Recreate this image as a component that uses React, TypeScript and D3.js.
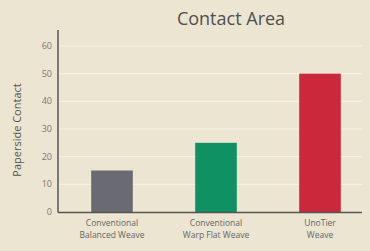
import React from "react";
import * as d3 from "d3";

const categories = ["Conventional|Balanced Weave", "Conventional|Warp Flat Weave", "UnoTier|Weave"];
const values = [15, 25, 50];
const colors = ["#6a6a72", "#0f9163", "#cc283c"];
const yTicks = [0, 10, 20, 30, 40, 50, 60];

export default function App() {
  const W = 370, H = 251;
  const x = d3.scaleBand<string>().domain(categories).range([60, 372]).paddingInner(0.6).paddingOuter(0.3);
  const y = d3.scaleLinear().domain([0, 60]).range([212, 46]);
  const font = "'Open Sans', 'DejaVu Sans', sans-serif";
  return (
    <svg width={W} height={H} style={{ position: "absolute", left: 0, top: 0 }} fontFamily={font}>
      <rect width={W} height={H} fill="#ebe5d2" />
      <text x={231} y={25} textAnchor="middle" fontSize={18} fill="#505050">Contact Area</text>
      {yTicks.map((t) => (
        <g key={t}>
          {t > 0 && <line x1={58} x2={362} y1={y(t)} y2={y(t)} stroke="#f5f1e6" strokeWidth={1.2} />}
          <text x={52} y={y(t) + 3} textAnchor="end" fontSize={9} fill="#777">{t}</text>
        </g>
      ))}
      {categories.map((c, i) => (
        <rect key={c} x={x(c)} y={y(values[i])} width={x.bandwidth()} height={y(0) - y(values[i])} fill={colors[i]} />
      ))}
      <line x1={58} x2={58} y1={30} y2={212.5} stroke="#555" strokeWidth={1.5} />
      <line x1={58} x2={362} y1={212.5} y2={212.5} stroke="#555" strokeWidth={1.5} />
      <text transform="translate(21,130) rotate(-90)" textAnchor="middle" fontSize={11} fill="#555">Paperside Contact</text>
      {categories.map((c) => {
        const cx = (x(c) as number) + x.bandwidth() / 2;
        const lines = c.split("|");
        return (
          <text key={c} x={cx} textAnchor="middle" fontSize={8.5} fill="#666">
            {lines.map((l, j) => (
              <tspan key={j} x={cx} y={226 + j * 12}>{l}</tspan>
            ))}
          </text>
        );
      })}
    </svg>
  );
}
